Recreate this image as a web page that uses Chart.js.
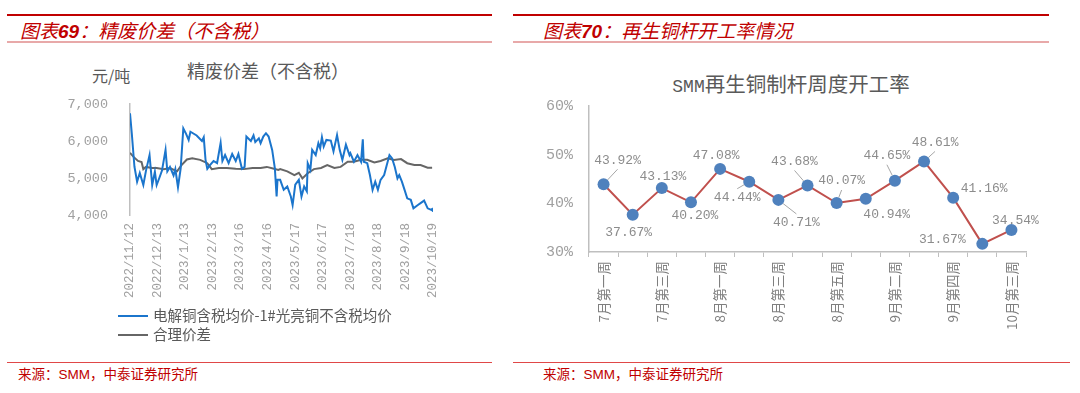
<!DOCTYPE html>
<html>
<head>
<meta charset="utf-8">
<script src="https://cdn.jsdelivr.net/npm/chart.js@4.4.0/dist/chart.umd.min.js"></script>
<style>
body{margin:0;width:1080px;height:393px;background:#fff;position:relative;overflow:hidden;font-family:"Noto Sans CJK SC",sans-serif}
.redline{position:absolute;top:14px;height:2px;background:#C00000}
.pinkline{position:absolute;top:41px;height:2px;background:#E8A9A9}
.footline{position:absolute;top:362px;height:1px;background:#E04848}
.hdr{position:absolute;top:18px;font-size:19px;line-height:24px;color:#C00000;font-style:italic;white-space:nowrap}
.hdr b{font-family:"Liberation Sans",sans-serif;font-weight:bold;font-size:19px}
.src{position:absolute;top:364px;font-size:13.5px;line-height:18px;color:#C00000;white-space:nowrap}
.src span{font-family:"Liberation Sans",sans-serif}
.ttl{position:absolute;color:#595959;white-space:nowrap;text-align:center}
.lg{position:absolute;left:118px;font-size:14.5px;line-height:18px;color:#595959;white-space:nowrap}
.lg i{display:inline-block;width:30px;height:2px;vertical-align:middle;margin-right:5px;margin-top:-2px}
canvas{position:absolute}
</style>
</head>
<body>
<div class="redline" style="left:7px;width:485px"></div>
<div class="redline" style="left:513px;width:536px"></div>
<div class="hdr" style="left:20px">图表<b>69</b>：精废价差（不含税）</div>
<div class="hdr" style="left:543px">图表<b>70</b>：再生铜杆开工率情况</div>
<div class="pinkline" style="left:7px;width:485px"></div>
<div class="pinkline" style="left:513px;width:536px"></div>

<div class="ttl" style="left:118px;width:300px;top:59px;font-size:18px;line-height:22px">精废价差（不含税）</div>
<div class="ttl" style="left:92px;top:64px;font-size:16px;line-height:22px">元/吨</div>
<div class="ttl" style="left:641px;width:300px;top:70px;font-size:20.5px;line-height:26px"><span style="font-family:'Liberation Mono',monospace;font-size:18px">SMM</span>再生铜制杆周度开工率</div>

<canvas id="c1" width="470" height="220" style="left:0;top:90px;width:470px;height:220px"></canvas>
<canvas id="c2" width="540" height="240" style="left:540px;top:95px;width:540px;height:240px"></canvas>
<div id="legend1"></div>

<div class="footline" style="left:7px;width:485px"></div>
<div class="footline" style="left:513px;width:557px"></div>
<div class="src" style="left:18px">来源：<span>SMM</span>，中泰证券研究所</div>
<div class="src" style="left:543px">来源：<span>SMM</span>，中泰证券研究所</div>

<script>
// ---- 图表69 数据 (天数从 2022/11/12 起算) ----
var dateTicks = ['2022/11/12','2022/12/13','2023/1/13','2023/2/13','2023/3/16','2023/4/16','2023/5/17','2023/6/17','2023/7/18','2023/8/18','2023/9/18','2023/10/19']
var seriesNames = ['电解铜含税均价-1#光亮铜不含税均价','合理价差']
var spreadDays = [0,2,5,8,11,15,18,22,25,28,30,33,36,40,42,45,49,51,54,57,60,63,66,68,75,81,83,85,87,90,94,98,102,104,107,111,115,119,122,126,129,131,136,139,141,145,147,150,153,156,160,163,165,166,169,173,177,181,183,186,190,193,196,199,200,203,205,209,212,214,216,218,221,226,229,233,236,239,243,247,248,252,256,260,262,263,267,270,273,276,279,282,286,289,292,295,298,301,303,306,309,312,316,319,324,327,331,335,339,340,341]
var spreadValues = [6750,6210,5305,4900,5135,4810,5200,5620,4810,5170,4810,5000,5200,5760,5180,5300,5070,5240,4750,5250,6340,6200,6030,6250,6150,6000,6100,5490,5250,5350,5460,5400,5950,5460,5620,5400,5650,5460,5650,5250,5300,6120,6000,6150,5970,6070,5940,6120,6210,6120,5760,5270,4500,4950,4950,4680,4770,4500,4270,4820,4950,4500,4770,4640,5400,5220,5760,5620,5940,5800,6100,5850,6030,6010,5720,6160,5760,5490,5900,5620,5670,5440,5620,5440,6045,5440,5400,5080,4680,4900,4680,4950,5080,5350,5620,5530,5300,4990,5080,4900,4680,4450,4410,4180,4270,4320,4390,4180,4140,4160,4090]
var fairDays = [0,4,9,13,15,18,25,30,38,45,53,58,64,70,79,87,92,100,109,119,128,138,147,154,162,167,169,177,185,190,194,200,207,215,222,230,237,245,252,260,267,275,282,290,297,305,312,320,327,335,340]
var fairValues = [5680,5570,5460,5430,5240,5300,5270,5270,5240,5270,5180,5350,5500,5530,5490,5400,5240,5270,5270,5250,5240,5270,5270,5300,5250,5220,5240,5180,5080,5140,4990,5130,5240,5270,5350,5270,5300,5440,5440,5490,5490,5420,5460,5530,5490,5510,5400,5350,5350,5280,5280]

// ---- 图表70 数据 ----
var weeks = ['7月第一周','7月第二周','7月第三周','7月第四周','8月第一周','8月第二周','8月第三周','8月第四周','8月第五周','9月第一周','9月第二周','9月第三周','9月第四周','10月第二周','10月第三周']
var rates = [43.92,37.67,43.13,40.20,47.08,44.44,40.71,43.68,40.07,40.94,44.65,48.61,41.16,31.67,34.54]
// 数据标签相对点的偏移 [dx, dy, 是否引线]
var labelPos = [[14,-24,1],[-4,18,0],[1,-12,0],[4,13,0],[-4,-13,0],[-12,16,1],[18,23,1],[-13,-24,1],[5,-22,1],[21,16,0],[-8,-25,1],[11,-19,1],[31,-9,0],[-40,-4,0],[4,-9,0]]

var lineColors = ['#1B75CC','#666666']
var mono = "'Liberation Mono', monospace"

function toXY(days, vals){
    var out = []
    for (var i = 0; i < days.length; i++) out.push({x: days[i], y: vals[i]})
    return out
}

var leg = ''
seriesNames.forEach(function(n, i){
    leg += '<div class="lg" style="top:' + (306 + i * 19) + 'px"><i style="background:' + lineColors[i] + '"></i>' + n + '</div>'
})
document.getElementById('legend1').innerHTML = leg

new Chart(document.getElementById('c1'), {
    type: 'line',
    data: {
        datasets: [
            {label: seriesNames[0], data: toXY(spreadDays, spreadValues), borderColor: lineColors[0], borderWidth: 2, pointRadius: 0, tension: 0},
            {label: seriesNames[1], data: toXY(fairDays, fairValues), borderColor: lineColors[1], borderWidth: 2, pointRadius: 0, tension: 0}
        ]
    },
    options: {
        responsive: false,
        animation: false,
        layout: {padding: {top: 14, right: 37, left: 0, bottom: 0}},
        plugins: {legend: {display: false}, tooltip: {enabled: false}},
        scales: {
            x: {
                type: 'linear', min: 0, max: 341,
                afterFit: function(s){ s.height = 95 },
                grid: {display: false, drawTicks: false},
                border: {display: false},
                ticks: {
                    stepSize: 31, maxRotation: 90, minRotation: 90, padding: 8,
                    color: '#A0A0A0', font: {family: mono, size: 12.5},
                    callback: function(v){ return dateTicks[Math.round(v / 31)] }
                }
            },
            y: {
                min: 4000, max: 7000,
                afterFit: function(s){ s.width = 130 },
                grid: {display: false, drawTicks: true, tickLength: 20},
                border: {display: true, color: '#BFBFBF', width: 1.5},
                ticks: {stepSize: 1000, padding: 2, color: '#A0A0A0', font: {family: mono, size: 13.5}}
            }
        }
    }
})

var rateLabels = {
    id: 'rateLabels',
    afterDatasetsDraw: function(chart){
        var ctx = chart.ctx
        var pts = chart.getDatasetMeta(0).data
        ctx.save()
        ctx.font = '13px ' + mono
        ctx.fillStyle = '#8C8C8C'
        ctx.textAlign = 'center'
        ctx.textBaseline = 'middle'
        pts.forEach(function(p, i){
            var o = labelPos[i]
            var lx = p.x + o[0], ly = p.y + o[1]
            if (o[2]) {
                var ex = lx, ey = ly + (o[1] < 0 ? 9 : -9)
                var dx = ex - p.x, dy = ey - p.y, d = Math.sqrt(dx * dx + dy * dy)
                ctx.strokeStyle = '#A6A6A6'
                ctx.lineWidth = 1
                ctx.beginPath()
                ctx.moveTo(p.x + dx / d * 6, p.y + dy / d * 6)
                ctx.lineTo(ex, ey)
                ctx.stroke()
            }
            ctx.fillText(rates[i].toFixed(2) + '%', lx, ly)
        })
        ctx.restore()
    }
}

new Chart(document.getElementById('c2'), {
    type: 'line',
    data: {
        labels: weeks,
        datasets: [{
            data: rates, borderColor: '#C0504D', borderWidth: 2, tension: 0,
            pointRadius: 6, pointBackgroundColor: '#4F81BD', pointBorderColor: '#4F81BD', pointBorderWidth: 0
        }]
    },
    options: {
        responsive: false,
        animation: false,
        layout: {padding: {top: 10, right: 54, left: 0, bottom: 0}},
        plugins: {legend: {display: false}, tooltip: {enabled: false}},
        scales: {
            x: {
                offset: true,
                afterFit: function(s){ s.height = 83 },
                grid: {display: true, offset: true, drawOnChartArea: false, drawTicks: true, tickLength: 5, color: '#BFBFBF'},
                border: {display: true, color: '#BFBFBF', width: 1.5},
                ticks: {
                    autoSkip: false, maxRotation: 90, minRotation: 90, padding: 4,
                    color: '#7F7F7F', font: {family: "'Noto Sans CJK SC'", size: 13.5},
                    callback: function(v, i){ return i % 2 === 0 ? weeks[i] : '' }
                }
            },
            y: {
                min: 30, max: 60,
                afterFit: function(s){ s.width = 49 },
                grid: {display: false, drawTicks: true, tickLength: 14},
                border: {display: true, color: '#BFBFBF', width: 1.5},
                ticks: {stepSize: 10, padding: 2, color: '#A0A0A0', font: {family: mono, size: 15},
                    callback: function(v){ return v + '%' }}
            }
        }
    },
    plugins: [rateLabels]
})
</script>
</body>
</html>
